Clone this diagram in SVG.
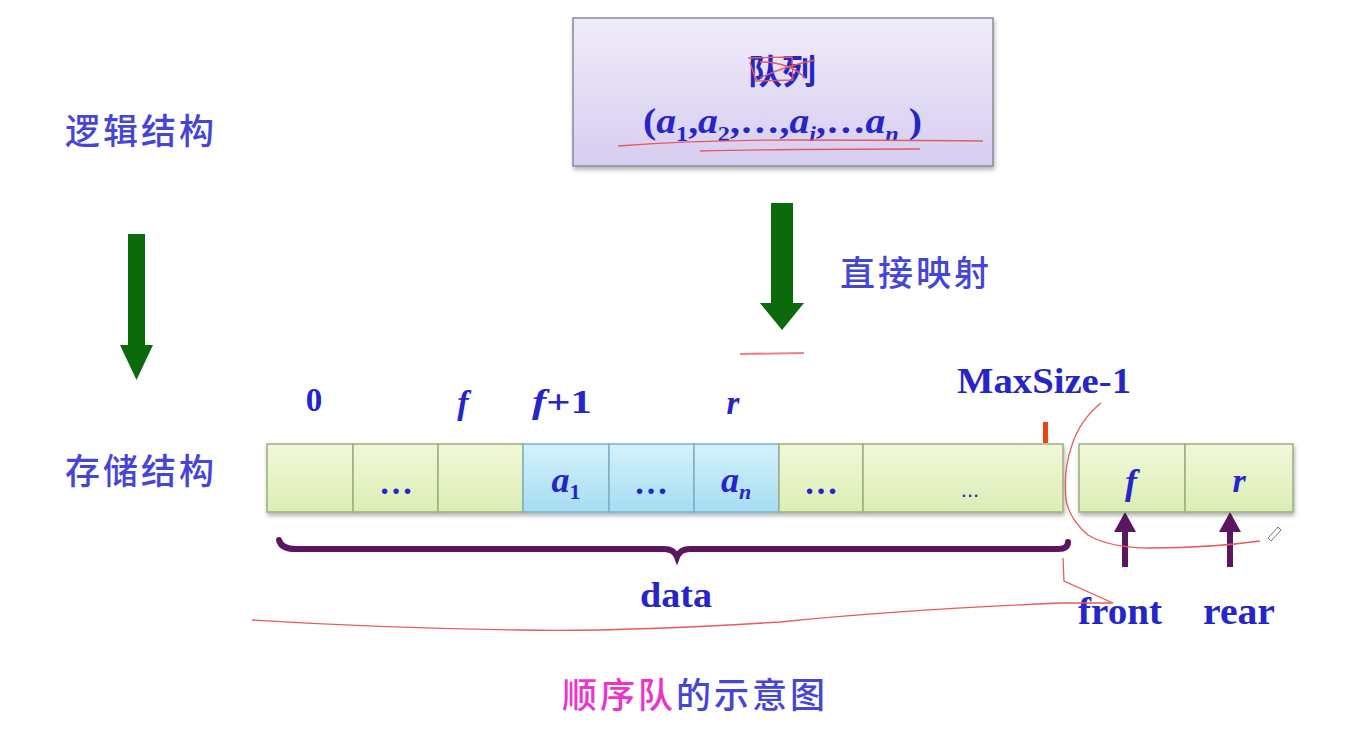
<svg xmlns="http://www.w3.org/2000/svg" width="1353" height="747" viewBox="0 0 1353 747">
<defs>
<linearGradient id="gBox" x1="0" y1="0" x2="0" y2="1"><stop offset="0" stop-color="#f0ecfa"/><stop offset="1" stop-color="#d6cdf0"/></linearGradient>
<linearGradient id="gCell" x1="0" y1="0" x2="0" y2="1"><stop offset="0" stop-color="#f1f8d8"/><stop offset="1" stop-color="#dcedb5"/></linearGradient>
<linearGradient id="gBlue" x1="0" y1="0" x2="0" y2="1"><stop offset="0" stop-color="#d4f2fb"/><stop offset="1" stop-color="#a6dcf2"/></linearGradient>
<filter id="sh" x="-5%" y="-10%" width="110%" height="130%"><feDropShadow dx="1" dy="3" stdDeviation="2" flood-color="#000" flood-opacity="0.3"/></filter>
</defs>
<style>
.zh{font-family:"Noto Sans CJK SC",sans-serif;font-size:35px;font-weight:500;fill:#4545d8;letter-spacing:3px}
.sf{font-family:"Liberation Serif",serif;font-weight:bold;fill:#2525c8}
.it{font-style:italic}
.cell{fill:url(#gCell);stroke:#9aae80;stroke-width:1.5}
.bcell{fill:url(#gBlue);stroke:#7cb0c8;stroke-width:1.5}
.red{fill:none;stroke:#e85a5a;stroke-width:1.3}
.grn{fill:#0b6a0b}
.pur{fill:#5c1660}
</style>
<rect width="1353" height="747" fill="#ffffff"/>

<g id="logic-label"><text class="zh" x="65" y="144">逻辑结构</text></g>
<g id="storage-label"><text class="zh" x="65" y="484">存储结构</text></g>
<g id="map-label"><text class="zh" x="840" y="286">直接映射</text></g>

<g id="queue-box">
<rect x="573" y="18" width="420" height="148" fill="url(#gBox)" stroke="#8a8a9a" stroke-width="1.5" filter="url(#sh)"/>
<text x="782" y="84" font-size="34" font-weight="bold" fill="#2525c8" text-anchor="middle" font-family="Noto Sans CJK SC, sans-serif">队列</text>
<text class="sf" x="643" y="133" font-size="36" textLength="279" lengthAdjust="spacingAndGlyphs">(<tspan class="it">a</tspan><tspan font-size="22" dy="8">1</tspan><tspan dy="-8">,</tspan><tspan class="it">a</tspan><tspan font-size="22" dy="8">2</tspan><tspan dy="-8">,…,</tspan><tspan class="it">a</tspan><tspan class="it" font-size="22" dy="8">i</tspan><tspan dy="-8">,…</tspan><tspan class="it">a</tspan><tspan class="it" font-size="22" dy="8">n</tspan><tspan dy="-8"> )</tspan></text>
</g>

<g id="connectors">
<path class="grn" d="M128,234 H145 V345 H153 L136.5,380 L120,345 H128 Z"/>
<path class="grn" d="M771,203 H793 V303 H804 L782,330 L760,303 H771 Z"/>
<path class="pur" d="M1122,567 V532 H1114 L1125,512 L1136,532 H1128 V567 Z"/>
<path class="pur" d="M1227,567 V532 H1219 L1230,512 L1241,532 H1233 V567 Z"/>
<path d="M279,540 Q281,549 296,549 L664,549 Q674,549 677,557 Q680,549 690,549 L1058,549 Q1068,549 1068,542" fill="none" stroke="#5c1660" stroke-width="6" stroke-linecap="round"/>
</g>

<g id="array" filter="url(#sh)">
<rect class="cell" x="267" y="444" width="86" height="68"/>
<rect class="cell" x="353" y="444" width="85" height="68"/>
<rect class="cell" x="438" y="444" width="85" height="68"/>
<rect class="bcell" x="523" y="444" width="86" height="68"/>
<rect class="bcell" x="609" y="444" width="85" height="68"/>
<rect class="bcell" x="694" y="444" width="85" height="68"/>
<rect class="cell" x="779" y="444" width="84" height="68"/>
<rect class="cell" x="863" y="444" width="200" height="68"/>
<rect class="cell" x="1079" y="444" width="106" height="68"/>
<rect class="cell" x="1185" y="444" width="108" height="68"/>
</g>
<g id="cell-texts">
<text class="sf" x="396" y="494" font-size="34" text-anchor="middle">…</text>
<text class="sf" x="566" y="492" font-size="36" text-anchor="middle"><tspan class="it">a</tspan><tspan font-size="22" dy="7">1</tspan></text>
<text class="sf" x="651" y="494" font-size="34" text-anchor="middle">…</text>
<text class="sf" x="736" y="492" font-size="36" text-anchor="middle"><tspan class="it">a</tspan><tspan class="it" font-size="22" dy="7">n</tspan></text>
<text class="sf" x="821" y="494" font-size="34" text-anchor="middle">…</text>
<text x="970" y="497" font-size="22" text-anchor="middle" fill="#2525c8" font-family="Liberation Sans, sans-serif">...</text>
<text class="sf it" x="1131" y="494" font-size="36" text-anchor="middle">f</text>
<text class="sf it" x="1239" y="492" font-size="34" text-anchor="middle">r</text>
</g>
<g id="index-labels">
<text class="sf" x="314" y="411" font-size="33" text-anchor="middle">0</text>
<text class="sf it" x="463" y="414" font-size="34" text-anchor="middle">f</text>
<text class="sf" x="532" y="413" font-size="33" textLength="60" lengthAdjust="spacingAndGlyphs"><tspan class="it">f</tspan>+1</text>
<text class="sf it" x="733" y="414" font-size="33" text-anchor="middle">r</text>
<text class="sf" x="957" y="393" font-size="36" textLength="174" lengthAdjust="spacingAndGlyphs">MaxSize-1</text>
<rect x="1043" y="422" width="5" height="21" fill="#ee4411"/>
</g>
<g id="bottom-labels">
<text class="sf" x="640" y="607" font-size="36" textLength="72" lengthAdjust="spacingAndGlyphs">data</text>
<text class="sf" x="1078" y="624" font-size="37" textLength="84" lengthAdjust="spacingAndGlyphs">front</text>
<text class="sf" x="1203" y="624" font-size="37" textLength="72" lengthAdjust="spacingAndGlyphs">rear</text>
<text class="zh" x="562" y="708"><tspan fill="#ee33cc">顺序队</tspan>的示意图</text>
</g>

<g id="annotations">
<path class="red" d="M748,58 L792,57 L793,80 L756,81 L750,62 M760,62 Q790,62 805,78 M760,78 Q785,66 815,60"/>
<path class="red" d="M618,146 Q700,140 790,140 Q900,140 983,141"/>
<path class="red" d="M700,151 Q790,149 920,149"/>
<path d="M740,354 L804,353" stroke="#f08090" stroke-width="2" fill="none"/>
<path class="red" d="M1101,403 Q1080,420 1072,445 Q1063,470 1066,500 Q1070,520 1088,535 Q1110,548 1150,548 Q1210,548 1260,541"/>
<path class="red" d="M1063,558 L1064,581 L1113,603 L1060,603 Q900,610 780,622 Q620,632 520,630 Q380,628 252,620"/>
<path d="M1268,538 L1278,527 L1281,530 L1271,541 Z" fill="none" stroke="#777" stroke-width="1"/>
</g>
</svg>
